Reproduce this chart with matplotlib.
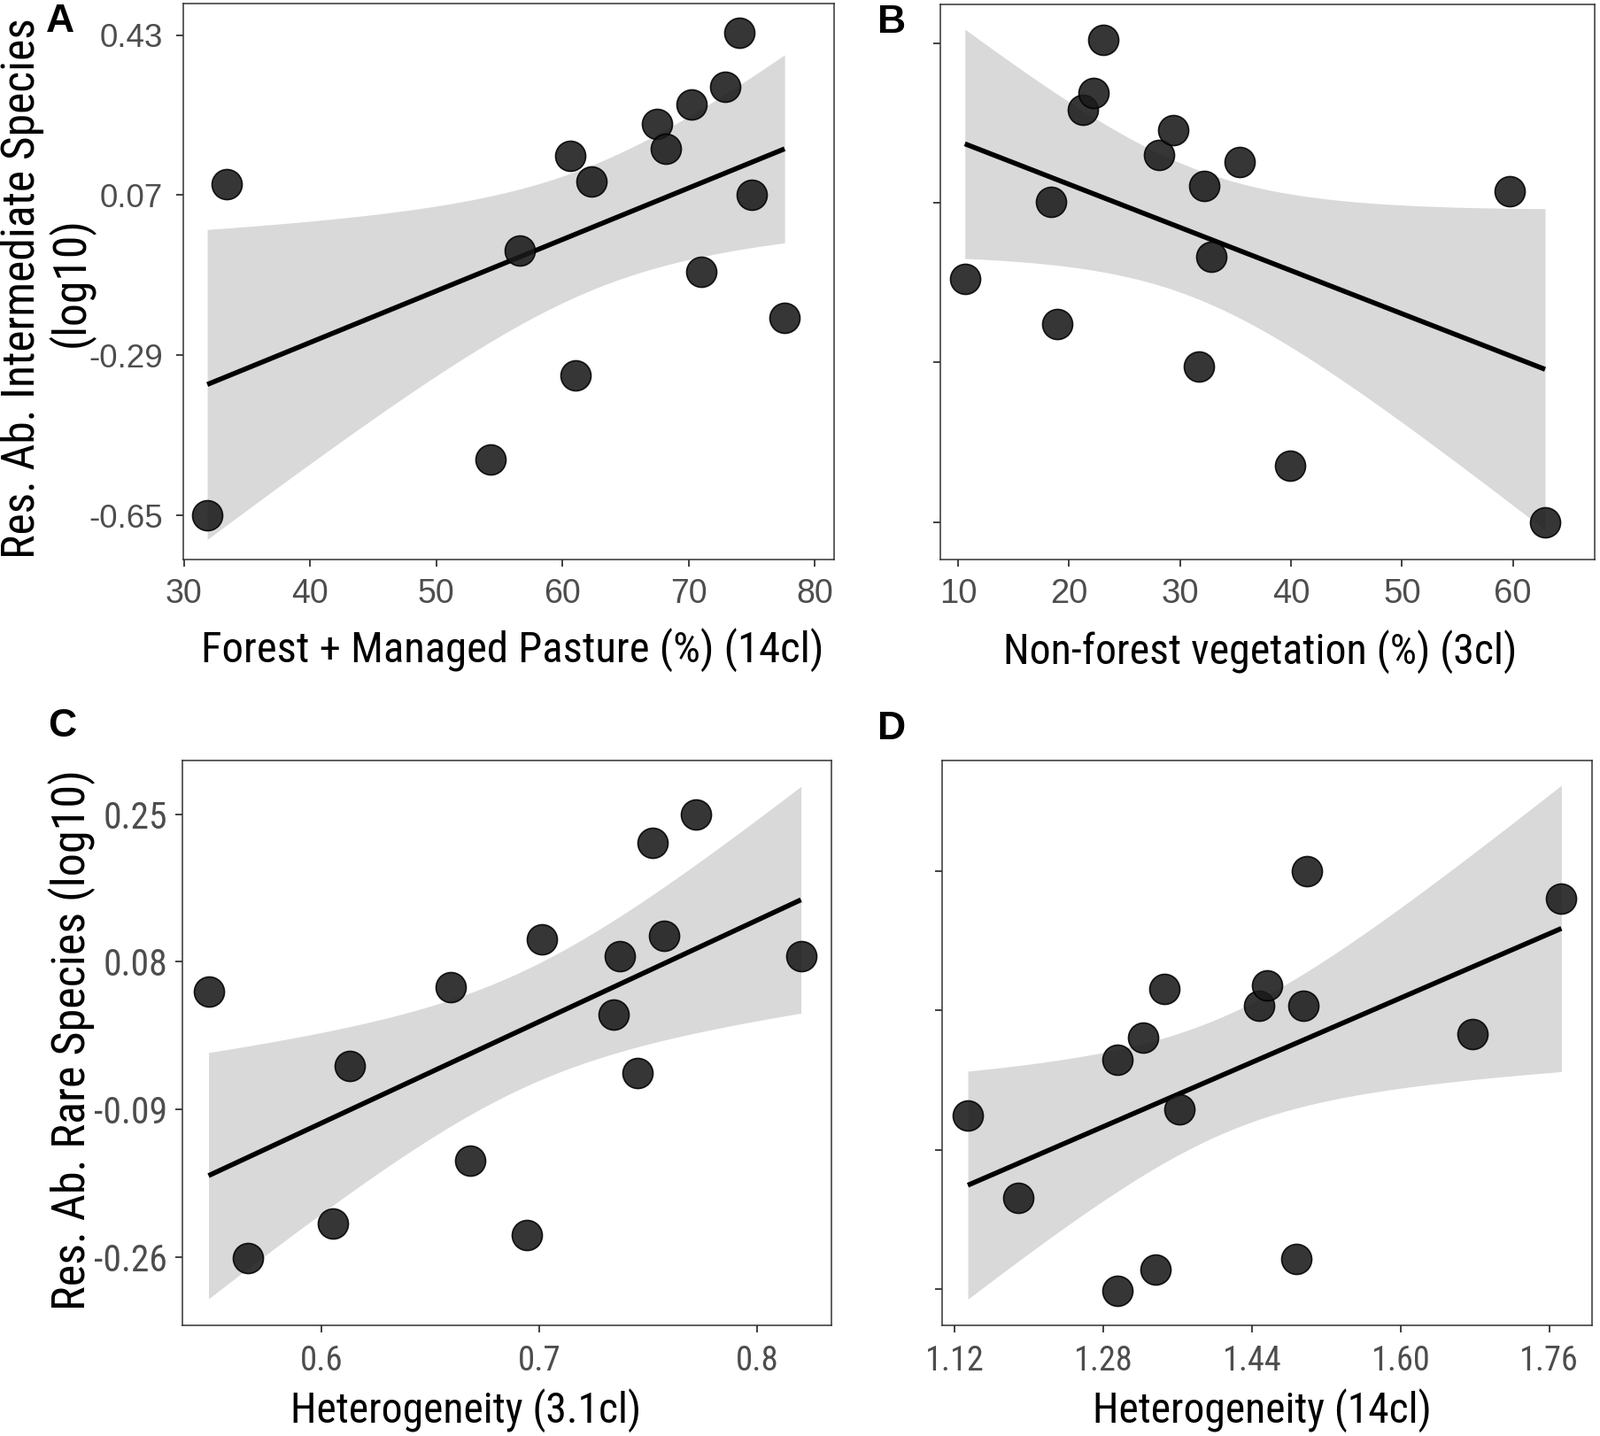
import numpy as np
import matplotlib
matplotlib.use("Agg")
import matplotlib.pyplot as plt
from matplotlib import font_manager as fm

# ---------------- data ----------------
a_x = [31.85, 33.4, 54.3, 56.6, 60.6, 61.0, 62.3, 67.5, 68.2, 70.2, 71.0, 72.9, 74.0, 75.0, 77.6]
a_y = [-0.65, 0.095, -0.524, -0.055, 0.159, -0.335, 0.101, 0.23, 0.175, 0.274, -0.103, 0.313, 0.435, 0.07, -0.206]

b_x = [10.6, 18.4, 18.9, 21.2, 22.2, 23.1, 28.1, 29.4, 31.7, 32.2, 32.8, 35.4, 39.9, 59.7, 62.9]
b_y = [-0.102, 0.072, -0.203, 0.279, 0.318, 0.437, 0.178, 0.233, -0.299, 0.107, -0.052, 0.162, -0.522, 0.097, -0.65]

c_x = [0.548, 0.566, 0.605, 0.613, 0.659, 0.668, 0.694, 0.701, 0.734, 0.737, 0.745, 0.752, 0.757, 0.772, 0.820]
c_y = [0.046, -0.261, -0.222, -0.040, 0.051, -0.149, -0.235, 0.106, 0.019, 0.087, -0.048, 0.217, 0.110, 0.250, 0.086]

d_x = [1.134, 1.188, 1.295, 1.295, 1.323, 1.336, 1.346, 1.362, 1.448, 1.456, 1.488, 1.495, 1.499, 1.677, 1.773]
d_y = [-0.048, -0.149, -0.262, 0.020, 0.047, -0.236, 0.106, -0.040, 0.086, 0.111, -0.223, 0.086, 0.250, 0.051, 0.217]

a_yticks = [0.43, 0.07, -0.29, -0.65]
a_xticks = [30, 40, 50, 60, 70, 80]
b_xticks = [10, 20, 30, 40, 50, 60]
c_yticks = [0.25, 0.08, -0.09, -0.26]
c_xticks = [0.6, 0.7, 0.8]
d_xticks = [1.12, 1.28, 1.44, 1.60, 1.76]
d_xticklabels = ["1.12", "1.28", "1.44", "1.60", "1.76"]

a_xlabel = "Forest + Managed Pasture (%) (14cl)"
b_xlabel = "Non-forest vegetation (%) (3cl)"
c_xlabel = "Heterogeneity (3.1cl)"
d_xlabel = "Heterogeneity (14cl)"
a_ylabel_1 = "Res. Ab. Intermediate Species"
a_ylabel_2 = "(log10)"
c_ylabel = "Res. Ab. Rare Species (log10)"
panel_letters = ["A", "B", "C", "D"]

# ---------------- fonts ----------------
names = {f.name for f in fm.fontManager.ttflist}
SANS = ["Liberation Sans", "DejaVu Sans"]
narrow_choice = None
for n in ["Roboto Condensed", "Liberation Sans Narrow", "Archivo Narrow"]:
    if n in names:
        narrow_choice = n
        break
NARROW = ([narrow_choice] if narrow_choice else []) + SANS
plt.rcParams["font.family"] = SANS

W, H = 1807, 1622
fig = plt.figure(figsize=(W / 100, H / 100), dpi=100)


def add_ax(l, r, t, b):
    return fig.add_axes([l / W, 1 - b / H, (r - l) / W, (b - t) / H])


def fit_band(x, y, n=80, z=1.96):
    x = np.asarray(x, float)
    y = np.asarray(y, float)
    b1, b0 = np.polyfit(x, y, 1)
    xs = np.linspace(x.min(), x.max(), n)
    yh = b0 + b1 * xs
    res = y - (b0 + b1 * x)
    s = np.sqrt(np.sum(res ** 2) / (len(x) - 2))
    se = s * np.sqrt(1 / len(x) + (xs - x.mean()) ** 2 / np.sum((x - x.mean()) ** 2))
    return xs, yh, yh - z * se, yh + z * se


EDGE = "#333333"
LABC = "#4d4d4d"


def panel(ax, x, y, xlim, ylim, xticks, yticks, show_y, xtl=None, ytl=None,
          xpad=9, ypad=10.5, xfont=SANS, yfont=SANS, xfs=27, yfs=26.5):
    xs, yh, lo, hi = fit_band(x, y)
    ax.fill_between(xs, lo, hi, color="#d9d9d9", lw=0, zorder=1)
    ax.plot(xs, yh, color="black", lw=4.0, zorder=2, solid_capstyle="butt")
    ax.scatter(x, y, s=600, facecolor="#1a1a1a", edgecolor="black", linewidth=1.2,
               alpha=0.88, zorder=3)
    ax.set_xlim(*xlim)
    ax.set_ylim(*ylim)
    ax.set_xticks(xticks)
    ax.set_yticks(yticks)
    if xtl is not None:
        ax.set_xticklabels(xtl)
    if ytl is not None:
        ax.set_yticklabels(ytl)
    for sp in ax.spines.values():
        sp.set_color(EDGE)
        sp.set_linewidth(1.1)
    ax.tick_params(direction="out", length=6, width=1.3, color=EDGE, labelcolor=LABC)
    ax.tick_params(axis="x", pad=xpad, labelsize=xfs)
    ax.tick_params(axis="y", pad=ypad, labelsize=yfs, labelleft=show_y)
    for t in ax.get_xticklabels():
        t.set_family(xfont)
    for t in ax.get_yticklabels():
        t.set_family(yfont)


axA = add_ax(206.6, 941.7, 4, 632.4)
panel(axA, a_x, a_y, (29.92, 81.5), (-0.750, 0.501), a_xticks, a_yticks, True,
      ytl=[f"{v:.2f}" for v in a_yticks], xpad=9, ypad=10.5, xfs=27, yfs=26.5)

axB = add_ax(1062, 1801, 5, 632)
panel(axB, b_x, b_y, (8.39, 67.37), (-0.734, 0.517), b_xticks, a_yticks, False,
      xpad=9, xfs=27.5)

axC = add_ax(206, 939, 859, 1497)
panel(axC, c_x, c_y, (0.536, 0.834), (-0.339, 0.312), c_xticks, c_yticks, True,
      ytl=[f"{v:.2f}" for v in c_yticks], xpad=10, ypad=6.3, xfont=NARROW, yfont=NARROW,
      xfs=28, yfs=30)

axD = add_ax(1063.7, 1798, 859, 1497)
panel(axD, d_x, d_y, (1.106, 1.806), (-0.304, 0.385), d_xticks, c_yticks, False,
      xtl=d_xticklabels, xpad=10, xfont=NARROW, xfs=27.5)

# axis titles
xl_specs = [  # text, centre x, baseline y, target width (px)
    (a_xlabel, 579, 748, 704),
    (b_xlabel, 1423.5, 750, 581),
    (c_xlabel, 526.5, 1607, 397),
    (d_xlabel, 1425, 1607, 384),
]
xl_texts = []
for txt, cx, by, tw in xl_specs:
    t = fig.text(cx / W, 1 - by / H, txt, ha="center", va="baseline", fontsize=32,
                 color="black", family=NARROW)
    xl_texts.append((t, tw))

ya1 = fig.text(25 / W, 1 - 326 / H, a_ylabel_1, rotation=90, ha="center", va="center",
               fontsize=32, color="black", family=NARROW)
ya2 = fig.text(80 / W, 1 - 319 / H, a_ylabel_2, rotation=90, ha="center", va="center",
               fontsize=32, color="black", family=NARROW)
yc = fig.text(81 / W, 1 - 1174.5 / H, c_ylabel, rotation=90, ha="center", va="center",
              fontsize=32, color="black", family=NARROW)

# panel letters
for lab, (lx, ty) in zip(panel_letters, [(51.7, 4), (991, 5), (54, 800), (991, 803)]):
    fig.text(lx / W, 1 - ty / H, lab, ha="left", va="top", fontsize=32,
             fontweight="bold", color="black", family=SANS)

# ---- size axis titles to the widths measured on the reference ----
fig.canvas.draw()
r = fig.canvas.get_renderer()


def fit(t, target, vertical=False):
    bb = t.get_window_extent(r)
    cur = bb.height if vertical else bb.width
    t.set_fontsize(t.get_fontsize() * target / cur)


for t, tw in xl_texts:
    fit(t, tw)
fit(ya1, 612, vertical=True)
ya2.set_fontsize(ya1.get_fontsize())
fit(yc, 613, vertical=True)

fig.savefig("out.png", dpi=100)
